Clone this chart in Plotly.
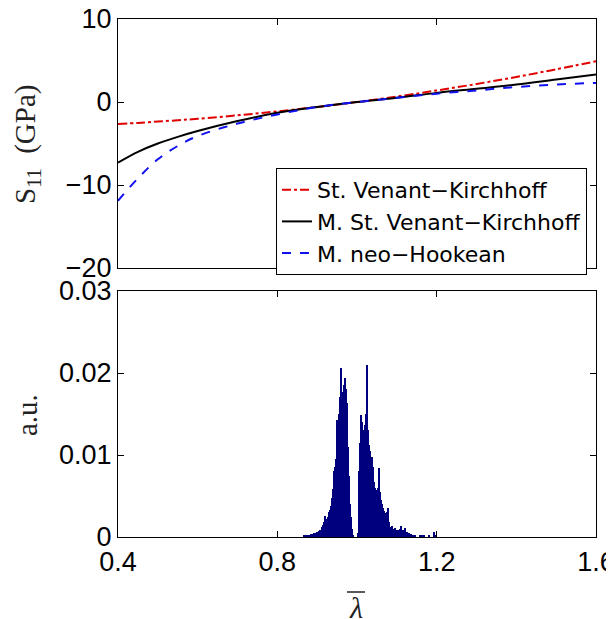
import plotly.graph_objects as go
from plotly.subplots import make_subplots

# ---- top panel: stress curves ----
lam = [0.40, 0.45, 0.50, 0.55, 0.60, 0.70, 0.80, 0.90, 1.00, 1.10, 1.20, 1.30, 1.40, 1.50, 1.60]
s_svk = [-2.65, -2.52, -2.36, -2.20, -2.02, -1.61, -1.13, -0.60, 0.0, 0.66, 1.39, 2.17, 3.02, 3.94, 4.91]
s_msvk = [-7.3, -6.0, -5.0, -4.2, -3.5, -2.3, -1.3, -0.6, 0.0, 0.5, 1.1, 1.6, 2.1, 2.7, 3.3]
s_mnh = [-11.9, -9.2, -6.9, -5.3, -4.1, -2.6, -1.5, -0.6, 0.0, 0.5, 1.0, 1.4, 1.8, 2.1, 2.3]

# ---- bottom panel: histogram ----
hist_start = 0.86
hist_width = 0.0025
hist_counts = [
    0, 0, 0.0002, 0.0002, 0, 0.0003, 0.0002, 0.0003, 0.0002, 0.0004,
    0.0003, 0.0004, 0.0005, 0.0004, 0.0005, 0.0006, 0.0005, 0.0007, 0.0008, 0.0009,
    0.0012, 0.0015, 0.0018, 0.0026, 0.0017, 0.0022, 0.0025, 0.0030, 0.0033, 0.0038,
    0.0047, 0.0058, 0.0080, 0.0085, 0.0095, 0.0143, 0.0130, 0.0150, 0.0171, 0.0206,
    0.0171, 0.0177, 0.0185, 0.0194, 0.0180, 0.0163, 0.0110, 0.0075, 0.0040, 0.0025,
    0.0010, 0.0002, 0, 0, 0, 0, 0.0005, 0.0041, 0.0080, 0.0115,
    0.0149, 0.0140, 0.0130, 0.0125, 0.0136, 0.0150, 0.0210, 0.0130, 0.0112, 0.0105,
    0.0098, 0.0098, 0.0085, 0.0067, 0.0060, 0.0057, 0.0052, 0.0060, 0.0084, 0.0055,
    0.0045, 0.0040, 0.0035, 0.0032, 0.0029, 0.0027, 0.0030, 0.0035, 0.0018, 0.0012,
    0.0011, 0.0013, 0.0010, 0.0009, 0.0011, 0.0008, 0.0007, 0.0009, 0.0006, 0.0010,
    0.0013, 0.0007, 0.0009, 0.0006, 0.0011, 0.0005, 0.0006, 0.0004, 0.0005, 0.0003,
    0.0004, 0.0002, 0.0003, 0.0002, 0.0002, 0, 0, 0, 0, 0.0003,
    0, 0.0003, 0, 0.0002, 0, 0, 0, 0, 0.0003, 0,
    0, 0, 0, 0.0006, 0.0003,
]
hist_x = [hist_start + hist_width * (i + 0.5) for i in range(len(hist_counts))]

x_ticks = [0.4, 0.8, 1.2, 1.6]
x_ticktext = ["0.4", "0.8", "1.2", "1.6"]
y1_ticks = [-20, -10, 0, 10]
y2_ticks = [0, 0.01, 0.02, 0.03]
y2_ticktext = ["0", "0.01", "0.02", "0.03"]

W, H = 614, 619
ml, mr, mt, mb = 110, 26, 11, 90
PW, PH = W - ml - mr, H - mt - mb


def px(fx):
    return (fx - ml) / PW


def py(fy):
    return (H - mb - fy) / PH


fig = make_subplots(rows=2, cols=1)

fig.add_trace(go.Scatter(x=lam, y=s_svk, mode="lines",
                         line=dict(color="#e00000", width=2, dash="dashdot", shape="spline"),
                         name="St. Venant\u2212Kirchhoff"), row=1, col=1)
fig.add_trace(go.Scatter(x=lam, y=s_msvk, mode="lines",
                         line=dict(color="black", width=2, shape="spline"),
                         name="M. St. Venant\u2212Kirchhoff"), row=1, col=1)
fig.add_trace(go.Scatter(x=lam, y=s_mnh, mode="lines",
                         line=dict(color="#1010f0", width=2, dash="dash", shape="spline"),
                         name="M. neo\u2212Hookean"), row=1, col=1)

fig.add_trace(go.Bar(x=hist_x, y=hist_counts, width=hist_width,
                     marker=dict(color="#00007f", line=dict(width=0)),
                     showlegend=False), row=2, col=1)

tickfont = dict(family="Liberation Sans, Arial", size=27, color="black")
axis_common = dict(showline=True, linecolor="black", linewidth=1.3, mirror="allticks", ticks="inside",
                   ticklen=6, tickcolor="black", showgrid=False, zeroline=False, tickfont=tickfont,
                   automargin=False, ticklabeloverflow="allow")

fig.update_layout(
    width=W, height=H, margin=dict(l=ml, r=mr, t=mt, b=mb),
    plot_bgcolor="white", paper_bgcolor="white", bargap=0,
    xaxis=dict(domain=[0, 1], range=[0.4, 1.6], tickvals=x_ticks, showticklabels=False, **axis_common),
    yaxis=dict(domain=[0.5193, 1.0], range=[-20, 10], tickvals=y1_ticks, **axis_common),
    xaxis2=dict(domain=[0, 1], range=[0.4, 1.6], tickvals=x_ticks, ticktext=x_ticktext, **axis_common),
    yaxis2=dict(domain=[0, 0.4749], range=[0, 0.03], tickvals=y2_ticks, ticktext=y2_ticktext, **axis_common),
    legend=dict(x=px(579), y=py(160), xanchor="right", yanchor="top", bgcolor="white",
                bordercolor="black", borderwidth=1,
                font=dict(family="DejaVu Sans", size=22, color="black"),
                tracegroupgap=0, itemwidth=30),
    showlegend=True,
)

serif = "Liberation Serif, Times New Roman"
fig.add_annotation(text="S<sub>11</sub>  (GPa)", xref="paper", yref="paper", x=px(19), y=py(137),
                   textangle=-90, showarrow=False, xanchor="center", yanchor="middle",
                   font=dict(family=serif, size=29, color="#222222"))
fig.add_annotation(text="a.u.", xref="paper", yref="paper", x=px(19), y=py(407),
                   textangle=-90, showarrow=False, xanchor="center", yanchor="middle",
                   font=dict(family=serif, size=29, color="#222222"))
# x-axis label: lambda with an overbar
fig.add_annotation(text="<i>\u03bb</i>", xref="paper", yref="paper", x=px(348), y=py(599),
                   showarrow=False, xanchor="center", yanchor="middle",
                   font=dict(family=serif, size=30, color="#222222"))
fig.add_shape(type="line", xref="paper", yref="paper", x0=px(339), x1=px(357), y0=py(584), y1=py(584),
              line=dict(color="#222222", width=1.5))

fig.write_html("out.html")
